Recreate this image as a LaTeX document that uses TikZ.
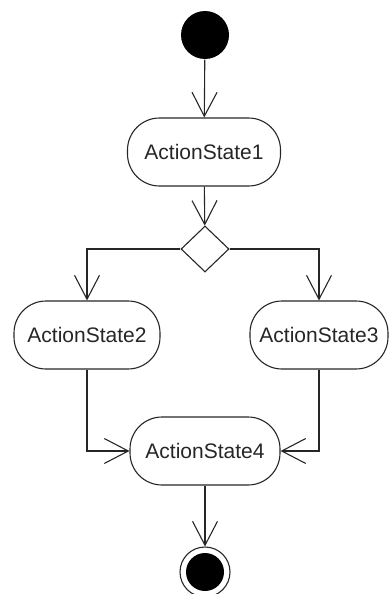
\documentclass[tikz,border=0pt]{standalone}
\usepackage{fontspec}
\setmainfont{Liberation Sans}
\usetikzlibrary{arrows.meta,shapes.geometric}
\begin{document}
\begin{tikzpicture}[x=1pt,y=-1pt,
  line width=1.1pt, draw=black!85,
  act/.style={draw, rounded corners=32pt, minimum height=68pt, inner sep=0pt,
    font=\fontsize{21}{25}\selectfont, text=black!85},
  flow/.style={-{Straight Barb[length=24pt,width=25pt,line width=1.1pt]}},
  decision/.style={draw, diamond, minimum width=48pt, minimum height=46pt, inner sep=0pt, fill=white}
]
\useasboundingbox (0,0) rectangle (390,594);

\node[circle, fill=black, minimum size=48pt, inner sep=0pt] (start) at (205,35) {};
\node[act, minimum width=153pt] (as1) at (204,152) {ActionState1};
\node[decision] (dec) at (205,249) {};
\node[act, minimum width=146pt] (as2) at (87,335) {ActionState2};
\node[act, minimum width=138pt] (as3) at (319,335) {ActionState3};
\node[act, minimum width=150pt] (as4) at (205,451) {ActionState4};
\node[circle, draw, line width=1.1pt, minimum size=50pt, inner sep=0pt] (final) at (205,572) {};
\node[circle, fill=black, minimum size=38pt, inner sep=0pt] at (final) {};

\draw[flow] (start) -- (as1);
\draw[flow] (as1) -- (dec);
\draw[flow] (dec.west) -| (as2.north);
\draw[flow] (dec.east) -| (as3.north);
\draw[flow] (as2.south) |- (as4.west);
\draw[flow] (as3.south) |- (as4.east);
\draw[flow] (as4) -- (final);
\end{tikzpicture}
\end{document}
